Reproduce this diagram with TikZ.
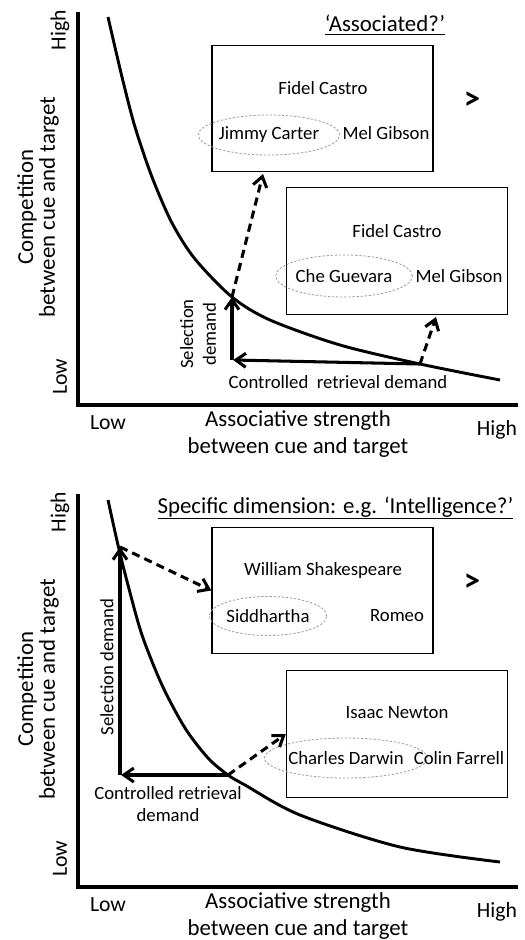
\documentclass[tikz,border=0pt]{standalone}
\usepackage{fontspec}
\setmainfont{Carlito}
\usetikzlibrary{arrows.meta,shapes.geometric,positioning}
\definecolor{inkblack}{HTML}{000000}
\definecolor{ringgray}{HTML}{9C9C9C}
\tikzset{
  axis/.style={line width=3.2pt, line join=miter, draw=inkblack},
  curve/.style={line width=2.5pt, draw=inkblack},
  demand/.style={-{Straight Barb[length=3mm,width=4.2mm]}, line width=2.6pt, draw=inkblack},
  link/.style={-{Straight Barb[length=3mm,width=4.2mm]}, line width=2.6pt, draw=inkblack,
    dash pattern=on 7pt off 4.5pt},
  pairbox/.style={rectangle, draw=inkblack, line width=1.1pt, minimum width=6.63cm, minimum height=3.8cm},
  word/.style={font=\fontsize{16}{19.5}\selectfont, align=center, text=inkblack},
  pick/.style={ellipse, draw=ringgray, line width=0.7pt, dash pattern=on 2pt off 1.5pt, inner sep=0pt},
  axlabel/.style={font=\fontsize{19.5}{22.5}\selectfont, align=center},
  lowhigh/.style={font=\fontsize{18.5}{22}\selectfont},
  title/.style={font=\fontsize{19.5}{23}\selectfont},
  better/.style={font=\fontsize{28}{30}\selectfont\bfseries}
}
\newcommand{\panelaxes}[1]{
  \coordinate (#1-top) at (78,12);
  \coordinate (#1-orig) at (78,405);
  \coordinate (#1-end) at (518,405);
  \draw[axis] (#1-top) -- (#1-orig) -- (#1-end);
  \node[lowhigh, rotate=90] (#1-yhigh) at (60,30) {High};
  \node[lowhigh, rotate=90] (#1-ylow) at (60,377) {Low};
  \node[axlabel, rotate=90, font=\fontsize{19.5}{18.5}\selectfont] (#1-ylab) at (38,207) {Competition\\between cue and target};
  \node[lowhigh] (#1-xlow) at (108,423) {Low};
  \node[lowhigh] (#1-xhigh) at (497,430) {High};
  \node[axlabel] (#1-xlab) at (298,434) {Associative strength\\between cue and target};
}

\begin{document}
\begin{tikzpicture}[x=0.03cm, y=-0.03cm]
\useasboundingbox (0,0) rectangle (524,940);
\panelaxes{t}
\draw[curve] plot[smooth] coordinates {(108,17) (122,77) (135,127) (152,177) (172,223) (195,259)
  (232,297) (270,320) (340,345) (420,364) (500,380)};
\node[title] (t-title) at (385,25) {\underline{‘Associated?’}};
\node[pairbox] (t-box1) at (322.5,108.5) {};
\node[word] (t-cue1) at (323,88) {Fidel Castro};
\node[pick, word, minimum width=3.75cm, minimum height=1.2cm] (t-jimmy) at (269,135) {Jimmy Carter};
\node[word] (t-mel1) at (386,133) {Mel Gibson};
\node[better] (t-gt) at (472,101) {>};
\node[pairbox] (t-box2) at (397,251) {};
\node[word] (t-cue2) at (397,231) {Fidel Castro};
\node[pick, word, minimum width=3.69cm, minimum height=1.26cm] (t-che) at (344,276) {Che Guevara};
\node[word] (t-mel2) at (459,276) {Mel Gibson};
\coordinate (t-corner) at (232,360);
\coordinate (t-cross) at (232,297);
\coordinate (t-far) at (420,364);
\coordinate (t-hit1) at (263,174);
\coordinate (t-hit2) at (436,317);
\draw[demand] (t-corner) -- (t-cross);
\draw[demand] (t-far) -- ([xshift=1pt]t-corner);
\draw[link] (t-cross) -- (t-hit1);
\draw[link] (t-far) -- (t-hit2);
\node[word, rotate=90] (t-sel) at (198,334) {Selection\\demand};
\node[word] (t-ctl) at (338,382) {Controlled\ \ retrieval demand};
\begin{scope}[shift={(0,482)}]
\panelaxes{b}
\end{scope}
\draw[curve] plot[smooth] coordinates {(108,500) (118,545) (128,585) (142,635) (162,685) (185,728)
  (208,758) (228,775) (245,785) (300,815) (400,847) (500,862)};
\node[title] (b-title) at (335.5,508) {\underline{Specific dimension: e.g. ‘Intelligence?’}};
\node[pairbox] (b-box1) at (322.5,590.5) {};
\node[word] (b-cue1) at (323,570) {William Shakespeare};
\node[pick, word, minimum width=3.3cm, minimum height=1.17cm] (b-sidd) at (268,616) {Siddhartha};
\node[word] (b-romeo) at (397,616) {Romeo};
\node[better] (b-gt) at (472,583) {>};
\node[pairbox] (b-box2) at (397,734) {};
\node[word] (b-cue2) at (397,713) {Isaac Newton};
\node[pick, word, minimum width=3.69cm, minimum height=1.2cm] (b-darwin) at (346,758) {Charles Darwin};
\node[word] (b-colin) at (459,758) {Colin Farrell};
\coordinate (b-corner) at (120,775);
\coordinate (b-cross) at (120,547);
\coordinate (b-far) at (228,775);
\draw[demand] (b-corner) -- (b-cross);
\draw[demand] (b-far) -- ([xshift=1pt]b-corner);
\draw[link] (b-cross) -- (b-box1.west);
\draw[link] (b-far) -- (b-box2.west);
\node[word, rotate=90] (b-sel) at (107,667) {Selection demand};
\node[word] (b-ctl) at (168,804) {Controlled retrieval\\demand};
\end{tikzpicture}
\end{document}
